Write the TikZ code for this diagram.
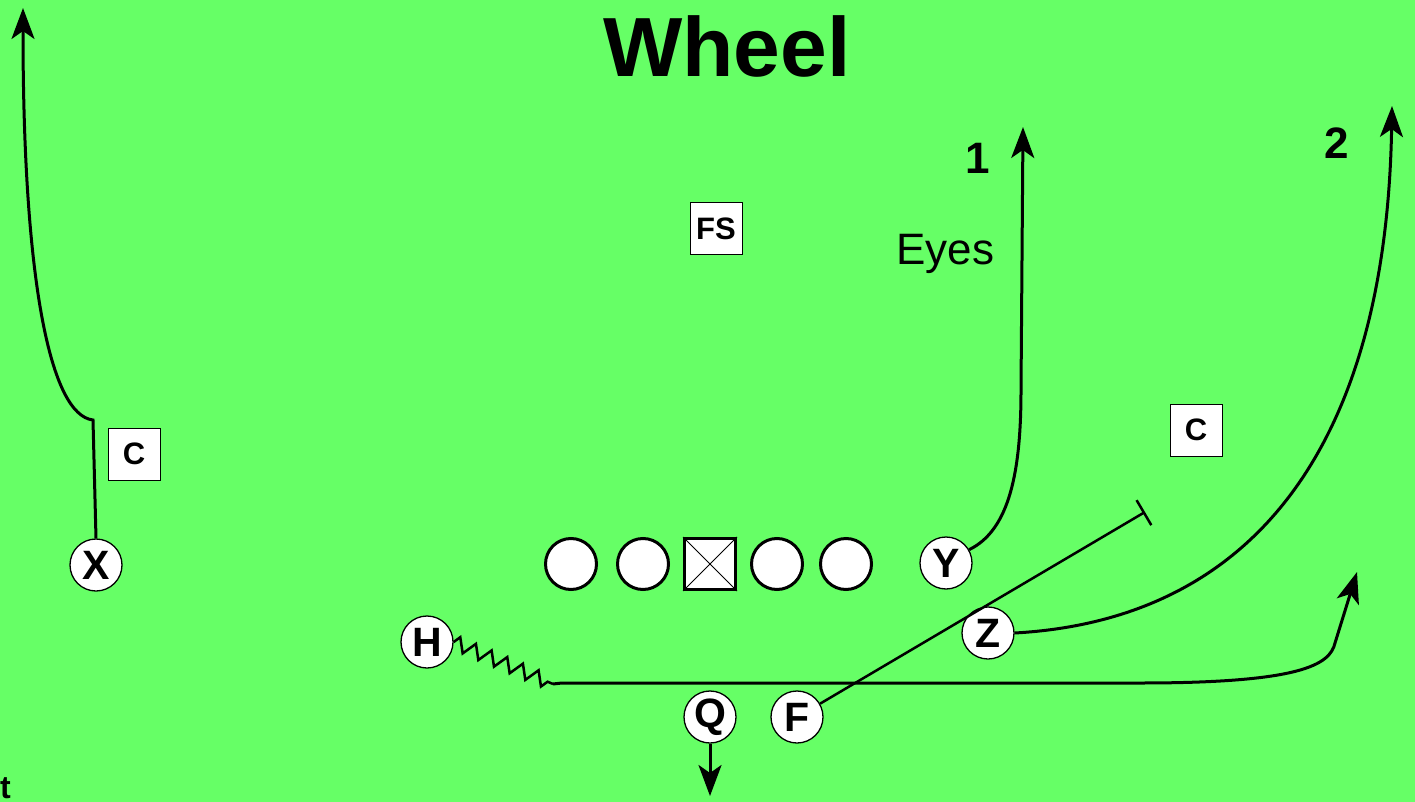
\documentclass[tikz,border=0pt]{standalone}
\usepackage{fontspec}
\setmainfont{Liberation Sans}
\usetikzlibrary{arrows.meta,decorations.pathmorphing}
\definecolor{field}{RGB}{102,255,102}
\begin{document}
\begin{tikzpicture}[x=1pt,y=-1pt,
  player/.style={circle,draw=black,line width=1.3pt,fill=white,minimum size=52pt,inner sep=0pt,font=\fontsize{41}{41}\selectfont\bfseries},
  lineman/.style={circle,draw=black,line width=3pt,fill=white,minimum size=51pt,inner sep=0pt},
  centerbox/.style={rectangle,draw=black,line width=3pt,fill=white,minimum size=51pt,inner sep=0pt},
  defbox/.style={rectangle,draw=black,line width=1pt,fill=white,minimum size=52pt,inner sep=0pt,font=\fontsize{31}{31}\selectfont\bfseries},
  route/.style={draw=black,line width=3pt},
  tip/.style={-{Stealth[length=31pt,width=23pt,inset=8pt]}},
  lbl/.style={inner sep=0pt}
]
\useasboundingbox (0,0) rectangle (1415,802);
\fill[field] (0,0) rectangle (1415,802);

% title and labels
\node[lbl,anchor=base,font=\fontsize{84}{84}\selectfont\bfseries] (title) at (727,77) {Wheel};
\node[lbl,font=\fontsize{44}{44}\selectfont\bfseries] (one) at (978,158) {1};
\node[lbl,font=\fontsize{44}{44}\selectfont\bfseries] (two) at (1337,143) {2};
\node[lbl,anchor=base west,font=\fontsize{44}{44}\selectfont] (eyes) at (896,265) {Eyes};
\node[lbl,anchor=base west,font=\fontsize{32}{32}\selectfont\bfseries] (tt) at (0,798) {t};

% defenders
\node[defbox] (FS) at (716,229) {FS};
\node[defbox] (CL) at (134,454) {C};
\node[defbox] (CR) at (1196,430) {C};

% line
\node[lineman] (LT) at (571,564) {};
\node[lineman] (LG) at (643,564) {};
\node[centerbox] (CC) at (710,564) {};
\draw[line width=1pt] (CC.north west) -- (CC.south east) (CC.north east) -- (CC.south west);
\node[lineman] (RG) at (777,564) {};
\node[lineman] (RT) at (846,564) {};

% players
\node[player] (X) at (96,565) {X};
\node[player] (Y) at (946,563) {Y};
\node[player] (Z) at (988,633) {Z};
\node[player] (H) at (427,642) {H};
\node[player] (Q) at (710,717) {Q};
\node[player] (F) at (797,717) {F};

% coordinates
\coordinate (xc) at (93,420);
\coordinate (xe) at (23,8);
\coordinate (ye) at (1023,127);
\coordinate (ze) at (1392,106);
\coordinate (hz) at (553,684);
\coordinate (hl) at (1140,683);
\coordinate (hb) at (1335,643);
\coordinate (he) at (1357,572);
\coordinate (fe) at (1145,512);
\coordinate (qe) at (710,796);

% routes
\draw[route,tip] (X.north) -- (xc) .. controls (50,415) and (23,280) .. (xe);
\draw[route,tip] (Y.30) .. controls (1010,530) and (1021,470) .. (1021,390) -- (ye);
\draw[route,tip] (Z.east) .. controls (1250,620) and (1386,450) .. (ze);
\draw[route,line width=2.5pt,decorate,decoration={zigzag,segment length=17pt,amplitude=7pt}] (H.east) -- (hz);
\draw[route,tip] (hz) -- (562,683) -- (hl) .. controls (1300,683) and (1330,665) .. (hb) -- (he);
\draw[route,line width=2.5pt,-{Bar[width=29pt]}] (F.30) -- (fe);
\draw[route,tip] (Q.south) -- (qe);
\end{tikzpicture}
\end{document}
